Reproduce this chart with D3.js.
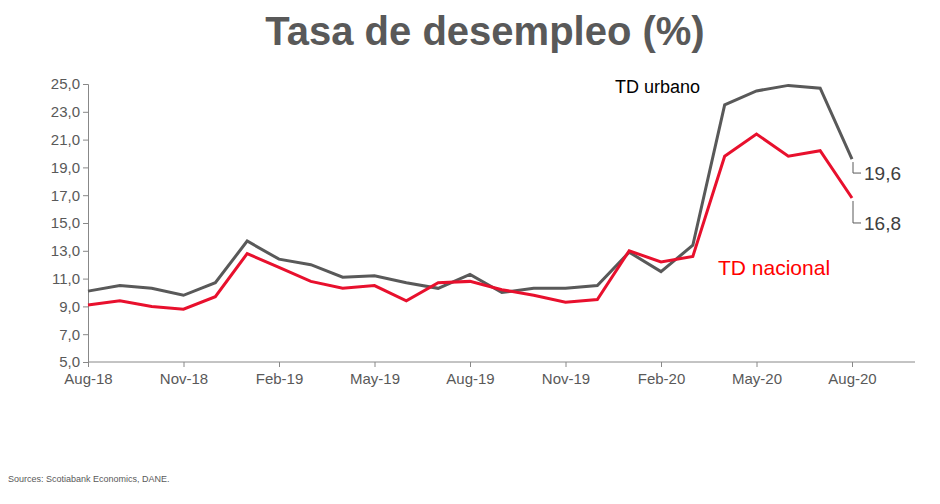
<!DOCTYPE html>
<html>
<head>
<script src="https://cdn.jsdelivr.net/npm/d3@7"></script>
<style>body{margin:0;background:#fff;font-family:Arial,"Liberation Sans",sans-serif}</style>
</head>
<body>
<script>
var width = 940, height = 504;

// monthly data, Aug-18 .. Aug-20
var months = ["Aug-18","Sep-18","Oct-18","Nov-18","Dec-18","Jan-19","Feb-19","Mar-19","Apr-19","May-19","Jun-19","Jul-19","Aug-19","Sep-19","Oct-19","Nov-19","Dec-19","Jan-20","Feb-20","Mar-20","Apr-20","May-20","Jun-20","Jul-20","Aug-20"];
var urbano = [10.1,10.5,10.3,9.8,10.7,13.7,12.4,12.0,11.1,11.2,10.7,10.3,11.3,10.0,10.3,10.3,10.5,12.9,11.5,13.4,23.5,24.5,24.9,24.7,19.6];
var nacional = [9.1,9.4,9.0,8.8,9.7,12.8,11.8,10.8,10.3,10.5,9.4,10.7,10.8,10.2,9.8,9.3,9.5,13.0,12.2,12.6,19.8,21.4,19.8,20.2,16.8];
var tickLabels = ["Aug-18","Nov-18","Feb-19","May-19","Aug-19","Nov-19","Feb-20","May-20","Aug-20"];
var yTicks = [5,7,9,11,13,15,17,19,21,23,25];

var svg = d3.select("body").append("svg").attr("width", width).attr("height", height);

var x = d3.scalePoint().domain(months).range([88, 852]);
var y = d3.scaleLinear().domain([5, 25]).range([362, 84]);

svg.append("text").attr("x", 485).attr("y", 45).attr("text-anchor", "middle")
   .style("font-size", "40px").style("font-weight", "bold").style("fill", "#595959")
   .text("Tasa de desempleo (%)");

var xa = svg.append("g").attr("transform", "translate(0,362)")
   .call(d3.axisBottom(x).tickValues(tickLabels).tickSize(5).tickSizeOuter(0));
xa.select(".domain").attr("d", "M88,0H915").attr("stroke", "#888");
xa.selectAll("line").attr("stroke", "#888");
xa.selectAll("text").style("font-size", "15px").style("fill", "#595959").attr("dy", "0.9em");

var ya = svg.append("g").attr("transform", "translate(88,0)")
   .call(d3.axisLeft(y).tickValues(yTicks).tickSize(5).tickFormat(function(d){ return d.toFixed(1).replace(".", ","); }));
ya.select(".domain").attr("stroke", "#888");
ya.selectAll("line").attr("stroke", "#888");
ya.selectAll("text").style("font-size", "15px").style("fill", "#595959");

var line = d3.line().x(function(d, i){ return x(months[i]); }).y(function(d){ return y(d); });

svg.append("path").datum(urbano).attr("d", line).attr("fill", "none").attr("stroke", "#595959").attr("stroke-width", 3);
svg.append("path").datum(nacional).attr("d", line).attr("fill", "none").attr("stroke", "#e8102d").attr("stroke-width", 3);

// end labels with leader ticks
var last = months.length - 1;
[[urbano[last], 14], [nacional[last], 25]].forEach(function(p){
  var y0 = y(p[0]) + 3, yy = y(p[0]) + p[1];
  svg.append("path").attr("d", "M" + (x(months[last]) + 1) + "," + y0 + "V" + yy + "h8")
     .attr("fill", "none").attr("stroke", "#595959").attr("stroke-width", 1);
  svg.append("text").attr("x", x(months[last]) + 12).attr("y", yy + 7)
     .style("font-size", "19px").style("fill", "#404040").text(p[0].toFixed(1).replace(".", ","));
});

svg.append("text").attr("x", 615).attr("y", 93).style("font-size", "18px").style("fill", "#000").text("TD urbano");
svg.append("text").attr("x", 718).attr("y", 275).style("font-size", "21px").style("fill", "#ff0000").text("TD nacional");

svg.append("text").attr("x", 8).attr("y", 482).style("font-size", "9px").style("fill", "#595959")
   .text("Sources: Scotiabank Economics, DANE.");
</script>
</body>
</html>
